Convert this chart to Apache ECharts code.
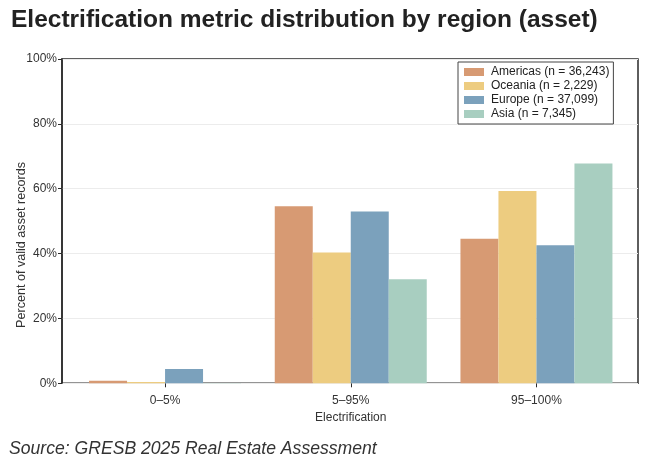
<!DOCTYPE html>
<html>
<head>
<meta charset="utf-8">
<script src="https://cdn.jsdelivr.net/npm/echarts@6/dist/echarts.min.js"></script>
<style>
  html, body { margin: 0; padding: 0; background: #fff; }
  #chart { width: 650px; height: 464px; }
</style>
</head>
<body>
<div id="chart"></div>
<script>
var categories = ['0–5%', '5–95%', '95–100%'];
var regions = ['Americas (n = 36,243)', 'Oceania (n = 2,229)', 'Europe (n = 37,099)', 'Asia (n = 7,345)'];
var americas = [0.8, 54.6, 44.6];
var oceania = [0.4, 40.3, 59.3];
var europe = [4.4, 53.0, 42.6];
var asia = [0.1, 32.1, 67.8];
var yTicks = [0, 20, 40, 60, 80, 100];
var colors = ['#d79a73', '#edcc80', '#7ba1bc', '#a8cec0'];

var font = '"Liberation Sans", Arial, sans-serif';
var chart = echarts.init(document.getElementById('chart'));

function barSeries(name, data, color) {
    return {
        name: name,
        type: 'bar',
        xAxisIndex: 1,
        yAxisIndex: 1,
        barWidth: 38,
        barGap: '0%',
        itemStyle: { color: color },
        data: data
    };
}

var option = {
    backgroundColor: '#fff',
    animation: false,
    textStyle: { fontFamily: font },
    title: {
        text: 'Electrification metric distribution by region (asset)',
        left: 6,
        top: 3,
        textStyle: { fontSize: 24.5, fontWeight: 'bold', color: '#222', fontFamily: font }
    },
    grid: [
        /* outer frame, y ticks and gridlines */
        { left: 62, top: 59, width: 576, height: 324.3, show: true, borderColor: '#2a2a2a', borderWidth: 1.5, backgroundColor: 'transparent' },
        /* bars, with margins like the source */
        { left: 72.2, top: 59, width: 557.1, height: 324.3 }
    ],
    legend: {
        orient: 'vertical',
        left: 458,
        top: 62,
        padding: [3, 4, 3, 6],
        itemGap: 0,
        itemWidth: 20,
        itemHeight: 8,
        icon: 'rect',
        borderColor: '#444',
        borderWidth: 1,
        backgroundColor: '#fff',
        textStyle: { fontSize: 12, color: '#222', lineHeight: 14, padding: [0, 0, 0, 2] },
        data: regions
    },
    xAxis: [
        { type: 'value', gridIndex: 0, min: 0, max: 1, show: false },
        {
            type: 'category',
            gridIndex: 1,
            data: categories,
            axisLine: { show: false },
            axisTick: { show: true, alignWithLabel: true, length: 4, lineStyle: { color: '#2a2a2a' } },
            axisLabel: { fontSize: 12, color: '#333', margin: 11 },
            name: 'Electrification',
            nameLocation: 'middle',
            nameGap: 25,
            nameTextStyle: { fontSize: 12, color: '#333' }
        }
    ],
    yAxis: [
        {
            type: 'value',
            gridIndex: 0,
            min: 0,
            max: 100,
            interval: 20,
            axisLine: { show: true, lineStyle: { color: '#2a2a2a', width: 1.5 } },
            axisTick: { show: true, length: 4, lineStyle: { color: '#2a2a2a' } },
            axisLabel: {
                fontSize: 12, color: '#333', margin: 5,
                formatter: function (v) { return yTicks.indexOf(v) >= 0 ? v + '%' : ''; }
            },
            splitLine: { show: true, lineStyle: { color: '#ececec', width: 1 } }
        },
        { type: 'value', gridIndex: 1, min: 0, max: 100, show: false }
    ],
    graphic: [
        {
            type: 'text',
            x: 21.5,
            y: 245,
            rotation: Math.PI / 2,
            style: {
                text: 'Percent of valid asset records',
                font: '12.6px ' + font,
                fill: '#333',
                textAlign: 'center',
                textVerticalAlign: 'middle'
            }
        },
        {
            type: 'text',
            x: 9,
            y: 449,
            style: {
                text: 'Source: GRESB 2025 Real Estate Assessment',
                font: 'italic 17.6px ' + font,
                fill: '#333',
                textAlign: 'left',
                textVerticalAlign: 'middle'
            }
        }
    ],
    series: [
        barSeries(regions[0], americas, colors[0]),
        barSeries(regions[1], oceania, colors[1]),
        barSeries(regions[2], europe, colors[2]),
        barSeries(regions[3], asia, colors[3])
    ]
};

chart.setOption(option);
</script>
</body>
</html>
